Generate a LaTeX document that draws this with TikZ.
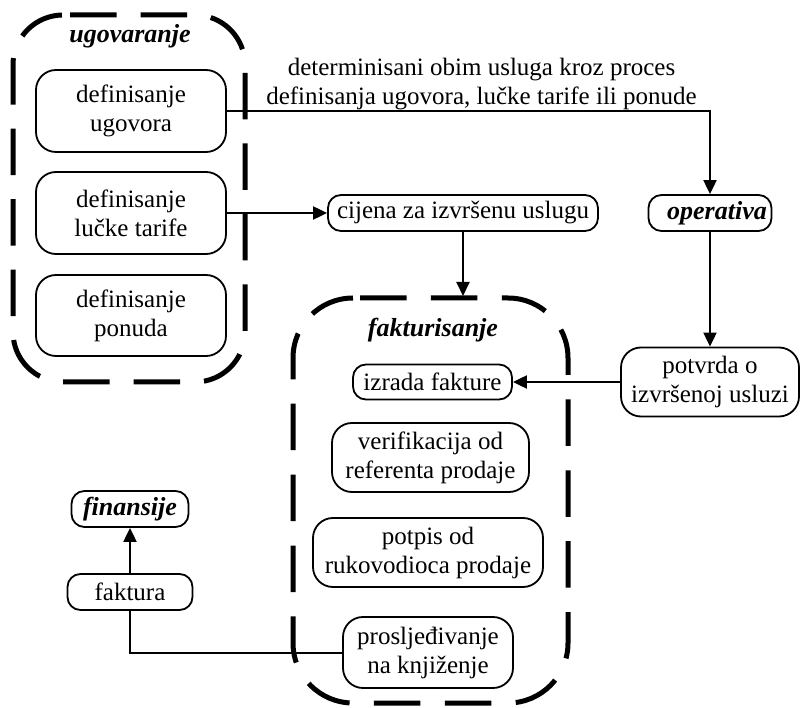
\documentclass[tikz,border=0pt]{standalone}
\usepackage{fontspec}
\setmainfont{Liberation Serif}
\usetikzlibrary{arrows.meta}
\begin{document}
\begin{tikzpicture}[x=1pt,y=-1pt,
  every node/.style={font=\fontsize{25}{29}\selectfont, inner sep=0pt, align=center},
  bigbox/.style={draw, line width=1.8pt, rounded corners=20pt, fill=white},
  smallbox/.style={draw, line width=1.8pt, rounded corners=13pt, minimum height=36pt, fill=white},
  title/.style={font=\fontsize{26}{30}\selectfont\bfseries\itshape},
  group/.style={line width=5pt, line cap=butt},
  link/.style={line width=2pt},
  arrow/.style={link, -{Triangle[length=14pt,width=13pt]}}]

\useasboundingbox (0,0) rectangle (801,708);

% dashed group frames, each starting where its top-left corner meets the top edge
\draw[group, dash pattern=on 46.5pt off 24pt, dash phase=63.5pt, rounded corners=50pt]
  (63,15) -- (245,15) -- (245,382) -- (13,382) -- (13,15) -- (63,15);
\draw[group, dash pattern=on 46.5pt off 24.4pt, dash phase=63.9pt, rounded corners=60pt]
  (353,298) -- (568,298) -- (568,703) -- (293,703) -- (293,298) -- (353,298);

% group titles
\node[title, anchor=base] (tugov) at (130,43) {ugovaranje};
\node[title, anchor=base] (tfakt) at (433,337) {fakturisanje};

% ugovaranje
\node[bigbox, minimum width=190pt, minimum height=82pt] (ugovor) at (131,111) {definisanje\\ugovora};
\node[bigbox, minimum width=190pt, minimum height=82pt] (tarifa) at (131,213) {definisanje\\lučke tarife};
\node[bigbox, minimum width=190pt, minimum height=81pt] (ponuda) at (131,315.5) {definisanje\\ponuda};

% flow label
\node (lbl) at (481.5,84) {determinisani obim usluga kroz proces\\definisanja ugovora, lučke tarife ili ponude};

\node[smallbox, minimum width=270pt] (cijena) at (463,213) {cijena za izvršenu uslugu};
\node[smallbox, title, minimum width=123pt] (operat) at (710,213) {\hspace*{14pt}operativa};
\node[bigbox, minimum width=178pt, minimum height=69pt] (potvrda) at (710,382) {potvrda o\\izvršenoj usluzi};

% fakturisanje
\node[smallbox, minimum width=159pt, minimum height=35pt] (izrada) at (432.5,382) {izrada fakture};
\node[bigbox, minimum width=197pt, minimum height=69pt] (verif) at (430.5,457.5) {verifikacija od\\referenta prodaje};
\node[bigbox, minimum width=230pt, minimum height=69pt] (potpis) at (428,552.5) {potpis od\\rukovodioca prodaje};
\node[bigbox, minimum width=170pt, minimum height=71pt] (prosl) at (428,652.5) {prosljeđivanje\\na knjiženje};

% finansije
\node[smallbox, minimum width=125pt] (faktura) at (130,592) {faktura};
\node[smallbox, title, minimum width=117pt] (finans) at (130,509) {finansije};

\coordinate (faktop) at (463,296);

% connectors
\draw[arrow] (ugovor.east) -| (operat.north);
\draw[arrow] (tarifa.east) -- (cijena.west);
\draw[arrow] (cijena.south) -- (faktop);
\draw[arrow] (operat.south) -- (potvrda.north);
\draw[arrow] (potvrda.west) -- (izrada.east);
\draw[link] (prosl.west) -| (faktura.south);
\draw[arrow] (faktura.north) -- (finans.south);
\end{tikzpicture}
\end{document}
